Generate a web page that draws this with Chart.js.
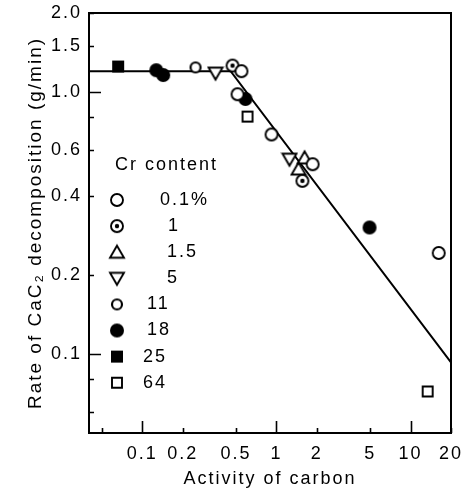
<!DOCTYPE html>
<html>
<head>
<meta charset="utf-8">
<script src="https://cdn.jsdelivr.net/npm/chart.js@4"></script>
<style>
html, body { margin: 0; padding: 0; background: #fff; }
#wrap { width: 472px; height: 493px; }
</style>
</head>
<body>
<div id="wrap"><canvas id="chart" width="472" height="493"></canvas></div>
<script>
// Cr content series (activity of carbon vs. rate of CaC2 decomposition)
const seriesLabels = ['0.1%', '1', '1.5', '5', '11', '18', '25', '64'];

const cr01X = [0.548, 0.512, 0.918, 1.86, 16.2];
const cr01Y = [1.20, 0.98, 0.688, 0.53, 0.243];
const cr1X = [0.47, 1.56];
const cr1Y = [1.26, 0.458];
const cr15X = [1.62, 1.46];
const cr15Y = [0.56, 0.508];
const cr5X = [0.351, 1.25];
const cr5Y = [1.18, 0.554];
const cr11X = [0.249];
const cr11Y = [1.24];
const cr18X = [0.127, 0.143, 0.587, 4.94];
const cr18Y = [1.21, 1.16, 0.94, 0.304];
const cr25X = [0.066];
const cr25Y = [1.25];
const cr64X = [0.608, 13.4];
const cr64Y = [0.805, 0.072];

// fitted line
const fitX = [0.04, 0.455, 20];
const fitY = [1.2, 1.2, 0.093];

const xTickValues = [0.1, 0.2, 0.5, 1, 2, 5, 10, 20];
const xTickLabels = ['0.1', '0.2', '0.5', '1', '2', '5', '10', '20'];
const xMinorTicks = [0.05];
const yTickValues = [0.1, 0.2, 0.4, 0.6, 1.0, 1.5, 2.0];
const yTickLabels = ['0.1', '0.2', '0.4', '0.6', '1.0', '1.5', '2.0'];
const yMinorTicks = [0.06, 0.08, 0.8];

const FONT = "'Liberation Sans', Arial, sans-serif";

function makeMarker(kind) {
    const s = 18;
    const c = document.createElement('canvas');
    c.width = s;
    c.height = s;
    const g = c.getContext('2d');
    const m = s / 2;
    g.lineWidth = 1.9;
    g.strokeStyle = '#000';
    g.fillStyle = '#fff';
    g.beginPath();
    if (kind === 'circle' || kind === 'dotCircle') {
        g.arc(m, m, 6, 0, Math.PI * 2);
        g.fill();
        g.stroke();
        if (kind === 'dotCircle') {
            g.fillStyle = '#000';
            g.beginPath();
            g.arc(m, m, 2.2, 0, Math.PI * 2);
            g.fill();
        }
    } else if (kind === 'smallCircle') {
        g.lineWidth = 2.2;
        g.arc(m, m, 5, 0, Math.PI * 2);
        g.fill();
        g.stroke();
    } else if (kind === 'triUp') {
        g.moveTo(m, m - 6.5);
        g.lineTo(m + 7, m + 5.5);
        g.lineTo(m - 7, m + 5.5);
        g.closePath();
        g.fill();
        g.stroke();
    } else if (kind === 'triDown') {
        g.moveTo(m, m + 6.5);
        g.lineTo(m + 7, m - 5.5);
        g.lineTo(m - 7, m - 5.5);
        g.closePath();
        g.fill();
        g.stroke();
    } else if (kind === 'disc') {
        g.fillStyle = '#000';
        g.arc(m, m, 7, 0, Math.PI * 2);
        g.fill();
    } else if (kind === 'solidSquare') {
        g.fillStyle = '#000';
        g.fillRect(m - 6, m - 6, 12, 12);
    } else if (kind === 'square') {
        g.rect(m - 5, m - 5, 10, 10);
        g.fill();
        g.stroke();
    }
    return c;
}

const markerKinds = ['circle', 'dotCircle', 'triUp', 'triDown', 'smallCircle', 'disc', 'solidSquare', 'square'];
const markers = markerKinds.map(makeMarker);

const seriesX = [cr01X, cr1X, cr15X, cr5X, cr11X, cr18X, cr25X, cr64X];
const seriesY = [cr01Y, cr1Y, cr15Y, cr5Y, cr11Y, cr18Y, cr25Y, cr64Y];

const toPoints = (xs, ys) => xs.map((x, i) => ({ x: x, y: ys[i] }));

const datasets = seriesLabels.map((label, i) => ({
    label: label,
    data: toPoints(seriesX[i], seriesY[i]),
    pointStyle: markers[i],
    pointRadius: 6,
    pointHoverRadius: 6,
    order: 0
}));

datasets.push({
    label: 'fit',
    data: toPoints(fitX, fitY),
    showLine: true,
    borderColor: '#000',
    borderWidth: 2,
    pointRadius: 0,
    pointHoverRadius: 0,
    order: 10
});

// wider lettering like the original typeset figure
const spacing = {
    id: 'spacing',
    beforeDraw(chart) {
        chart.ctx.letterSpacing = '2px';
    }
};

// tick marks drawn inward plus the frame
const frameTicks = {
    id: 'frameTicks',
    afterDatasetsDraw(chart) {
        const { ctx, chartArea: a, scales: { x, y } } = chart;
        const isDecade = (v) => Math.abs(Math.log10(v) - Math.round(Math.log10(v))) < 1e-6;
        ctx.save();
        ctx.strokeStyle = '#000';
        ctx.lineWidth = 1.6;
        ctx.beginPath();
        xTickValues.concat(xMinorTicks).forEach((v) => {
            const px = Math.round(x.getPixelForValue(v)) + 0.5;
            const len = isDecade(v) ? 12 : 5;
            ctx.moveTo(px, a.bottom);
            ctx.lineTo(px, a.bottom - len);
        });
        yTickValues.concat(yMinorTicks).forEach((v) => {
            const py = Math.round(y.getPixelForValue(v)) + 0.5;
            const len = isDecade(v) ? 12 : 5;
            ctx.moveTo(a.left, py);
            ctx.lineTo(a.left + len, py);
        });
        ctx.stroke();
        ctx.lineWidth = 2;
        ctx.strokeRect(a.left, a.top, a.right - a.left, a.bottom - a.top);
        ctx.restore();
    }
};

// legend block inside the plot
const legendLabelX = [160, 168, 167, 167, 147, 147, 143, 143];
const crLegend = {
    id: 'crLegend',
    afterDraw(chart) {
        const ctx = chart.ctx;
        ctx.save();
        ctx.fillStyle = '#000';
        ctx.font = '18px ' + FONT;
        ctx.textBaseline = 'middle';
        ctx.textAlign = 'left';
        ctx.fillText('Cr content', 115, 165);
        seriesLabels.forEach((label, i) => {
            const yy = 200 + i * 26.1;
            const mk = markers[i];
            ctx.drawImage(mk, 117 - mk.width / 2, yy - mk.height / 2);
            ctx.fillText(label, legendLabelX[i], yy);
        });
        ctx.restore();
    }
};

const noEdgePadding = (scale) => {
    scale.paddingTop = 0;
    scale.paddingBottom = 0;
    scale.paddingLeft = 0;
    scale.paddingRight = 0;
};

new Chart(document.getElementById('chart'), {
    type: 'scatter',
    data: { datasets: datasets },
    options: {
        responsive: false,
        animation: false,
        events: [],
        layout: { padding: { top: 13, right: 21, left: 0, bottom: 0 } },
        plugins: {
            legend: { display: false },
            tooltip: { enabled: false }
        },
        scales: {
            x: {
                type: 'logarithmic',
                min: 0.04,
                max: 20,
                grid: { display: false, drawTicks: false },
                border: { display: false },
                afterBuildTicks: (scale) => {
                    scale.ticks = xTickValues.map((v) => ({ value: v }));
                },
                afterFit: (scale) => {
                    scale.height = 60;
                    noEdgePadding(scale);
                },
                ticks: {
                    color: '#000',
                    padding: 10,
                    maxRotation: 0,
                    autoSkip: false,
                    font: { family: FONT, size: 18 },
                    callback: (value) => {
                        const idx = xTickValues.findIndex((v) => Math.abs(v - value) < 1e-9);
                        return idx >= 0 ? xTickLabels[idx] : '';
                    }
                },
                title: {
                    display: true,
                    text: 'Activity of carbon',
                    color: '#000',
                    font: { family: FONT, size: 18 },
                    padding: { top: 0, bottom: 3 }
                }
            },
            y: {
                type: 'logarithmic',
                min: 0.05,
                max: 2.0,
                grid: { display: false, drawTicks: false },
                border: { display: false },
                afterBuildTicks: (scale) => {
                    scale.ticks = yTickValues.map((v) => ({ value: v }));
                },
                afterFit: (scale) => {
                    scale.width = 89;
                    noEdgePadding(scale);
                },
                ticks: {
                    color: '#000',
                    padding: 7,
                    autoSkip: false,
                    font: { family: FONT, size: 18 },
                    callback: (value) => {
                        const idx = yTickValues.findIndex((v) => Math.abs(v - value) < 1e-9);
                        return idx >= 0 ? yTickLabels[idx] : '';
                    }
                },
                title: {
                    display: true,
                    text: 'Rate of CaC\u2082 decomposition (g/min)',
                    color: '#000',
                    font: { family: FONT, size: 19 },
                    padding: { top: 24, bottom: 0 }
                }
            }
        }
    },
    plugins: [spacing, frameTicks, crLegend]
});
</script>
</body>
</html>
